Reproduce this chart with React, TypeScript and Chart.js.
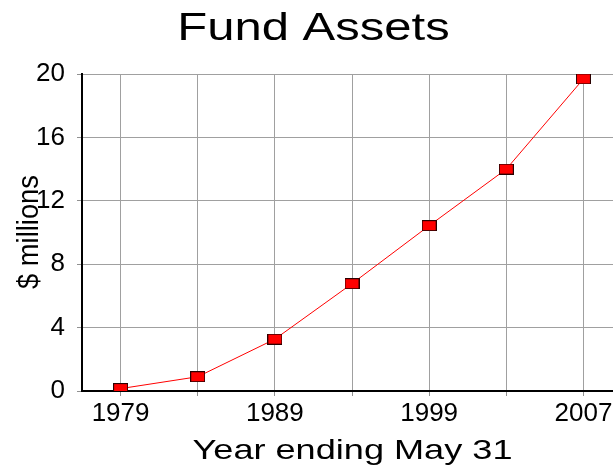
import React, { useEffect, useRef } from "react";
import { Chart, registerables } from "chart.js";

Chart.register(...registerables);

const title = "Fund Assets";
const xTitle = "Year ending May 31";
const yTitle = "$ millions";
const years = ["1979", "1984", "1989", "1994", "1999", "2003", "2007"];
const yearTickLabels = ["1979", "", "1989", "", "1999", "", "2007"];
const assets = [0.15, 0.9, 3.27, 6.77, 10.43, 14.0, 19.69];

const FONT = '"Liberation Sans", Arial, sans-serif';

function makeMarker(): HTMLCanvasElement {
  const c = document.createElement("canvas");
  c.width = 15;
  c.height = 11;
  const g = c.getContext("2d")!;
  g.fillStyle = "#ff0000";
  g.fillRect(0, 0, 15, 11);
  g.strokeStyle = "#2a0000";
  g.lineWidth = 1;
  g.strokeRect(0.5, 0.5, 14, 10);
  return c;
}

const titlesPlugin = {
  id: "stretchedTitles",
  afterDraw(chart: any) {
    const ctx = chart.ctx as CanvasRenderingContext2D;
    ctx.save();
    ctx.fillStyle = "#000";
    ctx.textAlign = "center";
    ctx.textBaseline = "alphabetic";
    ctx.save();
    ctx.font = `38px ${FONT}`;
    ctx.translate(313.5, 39.5);
    ctx.scale(1.29, 1);
    ctx.fillText(title, 0, 0);
    ctx.restore();
    ctx.save();
    ctx.font = `28px ${FONT}`;
    ctx.translate(352.5, 458.5);
    ctx.scale(1.29, 1);
    ctx.fillText(xTitle, 0, 0);
    ctx.restore();
    ctx.save();
    ctx.font = `26px ${FONT}`;
    ctx.translate(38, 232);
    ctx.rotate(-Math.PI / 2);
    ctx.scale(1.05, 1.1);
    ctx.fillText(yTitle, 0, 0);
    ctx.restore();
    ctx.restore();
  },
};

export default function App() {
  const ref = useRef<HTMLCanvasElement>(null);

  useEffect(() => {
    if (!ref.current) return;
    const marker = makeMarker();
    const chart = new Chart(ref.current, {
      type: "line",
      data: {
        labels: years,
        datasets: [
          {
            data: assets,
            borderColor: "#ff0000",
            borderWidth: 1,
            pointStyle: marker as any,
            pointRadius: 6,
            tension: 0,
            fill: false,
          },
        ],
      },
      options: {
        responsive: false,
        animation: false,
        devicePixelRatio: 1,
        layout: { autoPadding: false, padding: { top: 74, left: 0, right: 18, bottom: 0 } },
        plugins: {
          legend: { display: false },
          tooltip: { enabled: false },
          title: { display: false },
        },
        scales: {
          x: {
            type: "category",
            offset: true,
            afterFit: (s: any) => {
              s.height = 77;
            },
            ticks: {
              autoSkip: false,
              maxRotation: 0,
              padding: 2,
              color: "#000",
              font: { family: FONT, size: 26 },
              callback: (_v: any, i: number) => yearTickLabels[i] ?? "",
            },
            grid: {
              offset: false,
              color: "#a0a0a0",
              lineWidth: 1,
              tickLength: 5,
              tickColor: "#909090",
            },
            border: { color: "#000", width: 2 },
          },
          y: {
            min: 0,
            max: 20,
            afterFit: (s: any) => {
              s.width = 82;
            },
            ticks: {
              stepSize: 2,
              padding: 12,
              color: "#000",
              font: { family: FONT, size: 26 },
              callback: (v: any) => ((v as number) % 4 === 0 ? String(v) : ""),
            },
            grid: {
              color: "#a0a0a0",
              lineWidth: 1,
              tickLength: 5,
              tickColor: "#909090",
            },
            border: { color: "#000", width: 2 },
          },
        },
      },
      plugins: [titlesPlugin],
    });
    return () => chart.destroy();
  }, []);

  return (
    <div
      style={{
        position: "fixed",
        left: 0,
        top: 0,
        width: 613,
        height: 468,
        overflow: "hidden",
        background: "#fff",
      }}
    >
      <canvas ref={ref} width={640} height={468} style={{ display: "block" }} />
    </div>
  );
}
